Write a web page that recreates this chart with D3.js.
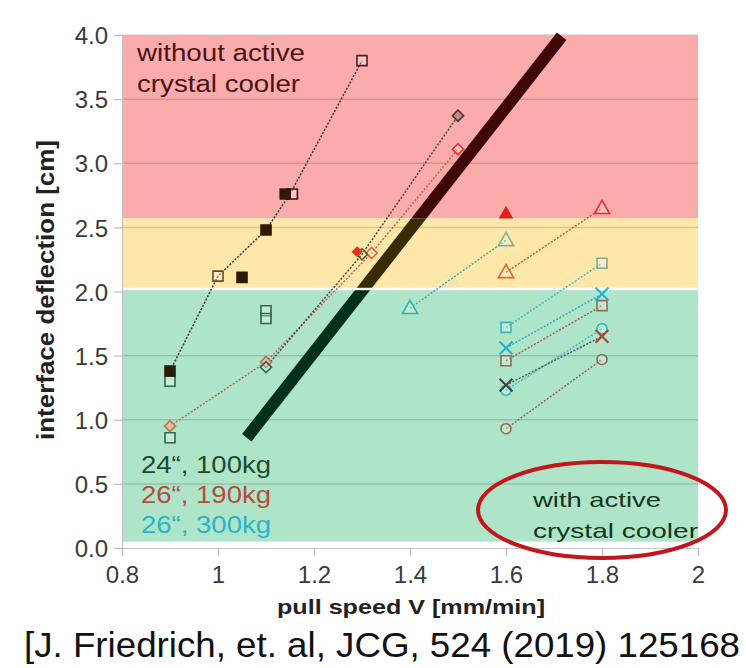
<!DOCTYPE html>
<html><head><meta charset="utf-8">
<script src="https://cdn.jsdelivr.net/npm/d3@7"></script>
<style>html,body{margin:0;padding:0;background:#fff;} svg{display:block;}</style>
</head><body>
<svg id="c" width="746" height="668"></svg>
<script>
// ---------------- data ----------------
const xTicks = [0.8, 1.0, 1.2, 1.4, 1.6, 1.8, 2.0];
const yTicks = [0, 0.5, 1.0, 1.5, 2.0, 2.5, 3.0, 3.5, 4.0];
const zoneNames = ["without", "transition", "with"];
const zoneLow = [2.57, 2.03, 0.05];
const zoneHigh = [4.0, 2.57, 2.01];
const zoneColors = ["#fcabab", "#fee7a9", "#aee5c9"];
const zoneLineColors = ["#3e0606", "#3a2c02", "#03301a"];
const criticalLine = [[1.06, 0.86], [1.716, 3.99]];

const legendLabels = ["24\u201C, 100kg", "26\u201C, 190kg", "26\u201C, 300kg"];
const legendColors = ["#1f4a2c", "#b44e3c", "#2bb3cb"];

// series (pull speed, deflection)
const s100Trend = [[0.9, 1.38], [1.0, 2.12], [1.1, 2.48], [1.15, 2.76], [1.3, 3.80]];
const s100Filled = [[0.9, 1.38], [1.05, 2.11], [1.1, 2.48], [1.14, 2.76]];
const s100Open = [[0.9, 1.30], [0.9, 0.86], [1.1, 1.85], [1.1, 1.79]];
const s100OpenTrend = [[1.0, 2.12], [1.155, 2.76], [1.3, 3.80]];
const s100Diamond = [[1.1, 1.41], [1.3, 2.29], [1.5, 3.37]];
const s190Diamond = [[0.9, 0.95], [1.1, 1.45], [1.32, 2.30], [1.5, 3.11]];
const s190FilledDiamond = [[1.29, 2.31]];
const s190FilledTri = [[1.6, 2.61]];
const s190Tri = [[1.6, 2.15], [1.8, 2.65]];
const s300Tri = [[1.4, 1.87], [1.6, 2.40]];
const s300Sq = [[1.6, 1.72], [1.8, 2.22]];
const s300X = [[1.6, 1.56], [1.8, 1.98]];
const s190Sq = [[1.6, 1.46], [1.8, 1.89]];
const s300Circ = [[1.6, 1.23], [1.8, 1.71]];
const s190X = [[1.6, 1.27], [1.8, 1.65]];
const s190Circ = [[1.6, 0.93], [1.8, 1.47]];

// ---------------- styles ----------------
const lines = [
  {data: s100Trend, color: "#333333"},
  {data: s190Diamond, color: "#c4604a"},
  {data: s100Diamond, color: "#444444"},
  {data: s190Tri, color: "#e0502e"},
  {data: s300Tri, color: "#3aaeae"},
  {data: s300Sq, color: "#40b4c4"},
  {data: s300X, color: "#30aacc"},
  {data: s190Sq, color: "#9a6450"},
  {data: s300Circ, color: "#40b8c8"},
  {data: s190X, color: "#555555"},
  {data: s190Circ, color: "#9a6450"}
];
const markers = [
  {data: s100Open, shape: "square", stroke: ["#2a6a48"], fill: "rgba(255,255,255,0.3)"},
  {data: s100OpenTrend, shape: "square", stroke: ["#6a4a2a", "#3a1010", "#4a2020"], fill: "rgba(255,255,255,0.3)"},
  {data: s100Filled, shape: "square", stroke: ["#2f1a08"], fill: "#2f1a08"},
  {data: s190Diamond, shape: "diamond", stroke: ["#b07858", "#b07858", "#e86040", "#e83030"], fillList: ["#e8b898", "#e8b898", "rgba(255,255,255,0.3)", "rgba(255,255,255,0.3)"]},
  {data: s100Diamond, shape: "diamond", stroke: ["#2a6a48", "#50602a", "#503030"], fillList: ["rgba(255,255,255,0.2)", "none", "#b89090"]},
  {data: s190FilledDiamond, shape: "diamond", stroke: ["#e8301c"], fill: "#e8301c", small: true},
  {data: s190FilledTri, shape: "triangle", stroke: ["#e02020"], fill: "#e02020", small: true},
  {data: s190Tri, shape: "triangle", stroke: ["#e86030", "#e83030"], fill: "rgba(255,255,255,0.25)"},
  {data: s300Tri, shape: "triangle", stroke: ["#30b0b0", "#80b0a0"], fill: "rgba(255,255,255,0.25)"},
  {data: s300Sq, shape: "square", stroke: ["#30b8c8", "#80a898"], fill: "rgba(255,255,255,0.25)"},
  {data: s190Sq, shape: "square", stroke: ["#9a6a50"], fill: "rgba(255,255,255,0.25)"},
  {data: s300Circ, shape: "circle", stroke: ["#30b8c8"], fill: "rgba(255,255,255,0.25)"},
  {data: s190Circ, shape: "circle", stroke: ["#9a6a50"], fill: "rgba(255,255,255,0.25)"},
  {data: s300X, shape: "x", stroke: ["#20b0d0"], fill: "none"},
  {data: s190X, shape: "x", stroke: ["#404040", "#b04030"], fill: "none"}
];

// ---------------- chart ----------------
const svg = d3.select("#c");
const FONT = "'Liberation Sans', Arial, Helvetica, sans-serif";
const x = d3.scaleLinear().domain([0.8, 2.0]).range([122, 698]);
const y = d3.scaleLinear().domain([0, 4]).range([548, 35]);

svg.append("rect").attr("width", 746).attr("height", 668).attr("fill", "#fff");
const defs = svg.append("defs");

// citation
svg.append("text")
  .attr("x", 24).attr("y", 657)
  .attr("font-family", FONT).attr("font-size", 35).attr("fill", "#111")
  .attr("textLength", 716).attr("lengthAdjust", "spacingAndGlyphs")
  .text("[J. Friedrich, et. al, JCG, 524 (2019) 125168");

// zones
zoneNames.forEach((n, i) => {
  svg.append("rect")
    .attr("x", x(0.8)).attr("width", x(2.0) - x(0.8))
    .attr("y", y(zoneHigh[i])).attr("height", y(zoneLow[i]) - y(zoneHigh[i]))
    .attr("fill", zoneColors[i]);
  defs.append("clipPath").attr("id", "zc" + i).append("rect")
    .attr("x", 0).attr("width", 746)
    .attr("y", i === 0 ? 0 : y(zoneHigh[i]))
    .attr("height", i === 2 ? 668 - y(zoneHigh[i]) : y(zoneLow[i]) - (i === 0 ? 0 : y(zoneHigh[i])));
});

// gridlines
svg.append("g").selectAll("line").data(yTicks.filter(v => v > 0 && v < 4 && v !== 2))
  .join("line")
  .attr("x1", x(0.8)).attr("x2", x(2.0))
  .attr("y1", d => y(d)).attr("y2", d => y(d))
  .attr("stroke", "#000").attr("stroke-opacity", 0.14).attr("stroke-width", 1.5);

// axes
const yAxis = d3.axisLeft(y).tickValues(yTicks).tickSize(8).tickPadding(6).tickFormat(d3.format(".1f"));
const gy = svg.append("g").attr("transform", `translate(${x(0.8)},0)`).call(yAxis);
gy.select(".domain").attr("stroke", "#c4c4c4").attr("stroke-width", 1.2);
gy.selectAll(".tick line").attr("stroke", "#bdbdbd").attr("stroke-width", 1.2);
gy.selectAll(".tick text").attr("font-family", FONT).attr("font-size", 24).attr("fill", "#3a3a3a")
  .attr("dy", "0.36em");

const xAxis = d3.axisBottom(x).tickValues(xTicks).tickSize(8).tickPadding(10)
  .tickFormat(d => d3.format("")(+d.toFixed(1)));
const gx = svg.append("g").attr("transform", `translate(0,${y(0)})`).call(xAxis);
gx.select(".domain").attr("stroke", "#c4c4c4").attr("stroke-width", 1.2);
gx.selectAll(".tick line").attr("stroke", "#bdbdbd").attr("stroke-width", 1.2);
gx.selectAll(".tick text").attr("font-family", FONT).attr("font-size", 24).attr("fill", "#3a3a3a");

// top border
svg.append("line").attr("x1", x(0.8)).attr("x2", x(2.0)).attr("y1", y(4)).attr("y2", y(4))
  .attr("stroke", "#c4c4c4").attr("stroke-width", 1.2);

// annotation texts
function txt(t, px, py, size, color, len, weight) {
  return svg.append("text").attr("x", px).attr("y", py)
    .attr("font-family", FONT).attr("font-size", size).attr("fill", color)
    .attr("font-weight", weight || "normal")
    .attr("textLength", len).attr("lengthAdjust", "spacingAndGlyphs").text(t);
}
txt("without  active", 137, 61, 23, "#4a1414", 168);
txt("crystal  cooler", 137, 92, 23, "#4a1414", 163);

// critical thick line, coloured per zone
zoneNames.forEach((n, i) => {
  svg.append("line")
    .attr("clip-path", `url(#zc${i})`)
    .attr("x1", x(criticalLine[0][0])).attr("y1", y(criticalLine[0][1]))
    .attr("x2", x(criticalLine[1][0])).attr("y2", y(criticalLine[1][1]))
    .attr("stroke", zoneLineColors[i]).attr("stroke-width", 12);
});

// dotted connecting lines
const lineGen = d3.line().x(d => x(d[0])).y(d => y(d[1]));
svg.append("g").selectAll("path").data(lines).join("path")
  .attr("d", d => lineGen(d.data))
  .attr("fill", "none").attr("stroke", d => d.color)
  .attr("stroke-width", 1.5).attr("stroke-dasharray", "2,1.6");

// markers
const xSym = d3.symbolX || {draw(ctx, size) { const r = Math.sqrt(size) / 2; ctx.moveTo(-r, -r); ctx.lineTo(r, r); ctx.moveTo(r, -r); ctx.lineTo(-r, r); }};
function symPath(shape, small) {
  if (shape === "square") return d3.symbol(d3.symbolSquare, 100)();
  if (shape === "diamond") return d3.symbol(d3.symbolSquare, small ? 40 : 62)();
  if (shape === "triangle") return d3.symbol(d3.symbolTriangle, small ? 60 : 100)();
  if (shape === "circle") return d3.symbol(d3.symbolCircle, 80)();
  if (shape === "x") return d3.symbol(xSym, 110)();
}
markers.forEach(m => {
  svg.append("g").selectAll("path").data(m.data).join("path")
    .attr("d", symPath(m.shape, m.small))
    .attr("transform", d => `translate(${x(d[0])},${y(d[1])})` + (m.shape === "diamond" ? " rotate(45)" : "") + (m.shape === "triangle" ? " translate(0,1)" : ""))
    .attr("fill", (d, i) => m.fillList ? m.fillList[i] : m.fill)
    .attr("stroke", (d, i) => m.stroke[Math.min(i, m.stroke.length - 1)])
    .attr("stroke-width", m.shape === "x" ? 2 : 1.6);
});

// legend
legendLabels.forEach((l, i) => {
  txt(l, 141, 473 + i * 30, 24, legendColors[i], 130);
});

// with cooler annotation
txt("with  active", 533, 507, 21, "#16361f", 128);
txt("crystal  cooler", 533, 538, 21, "#16361f", 165);
svg.append("ellipse").attr("cx", 602).attr("cy", 510).attr("rx", 124).attr("ry", 48)
  .attr("fill", "none").attr("stroke", "#c4141c").attr("stroke-width", 4);

// axis titles
svg.append("text").attr("transform", "translate(54,290) rotate(-90)")
  .attr("text-anchor", "middle").attr("font-family", FONT).attr("font-weight", "bold")
  .attr("font-size", 23).attr("fill", "#222")
  .attr("textLength", 300).attr("lengthAdjust", "spacingAndGlyphs")
  .text("interface deflection [cm]");
svg.append("text").attr("x", 411).attr("y", 614)
  .attr("text-anchor", "middle").attr("font-family", FONT).attr("font-weight", "bold")
  .attr("font-size", 21).attr("fill", "#222")
  .attr("textLength", 268).attr("lengthAdjust", "spacingAndGlyphs")
  .text("pull speed V [mm/min]");
</script>
</body></html>
